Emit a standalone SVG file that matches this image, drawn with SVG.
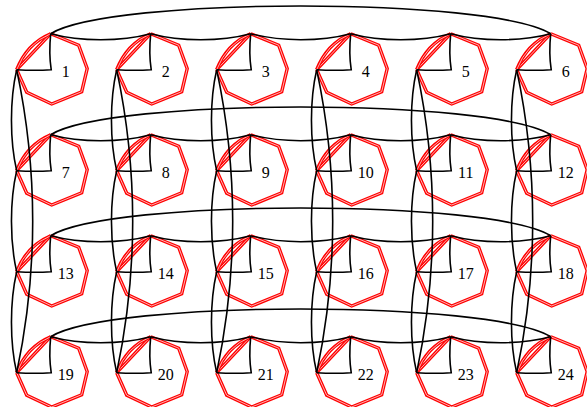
<svg xmlns="http://www.w3.org/2000/svg" xmlns:xlink="http://www.w3.org/1999/xlink" width="587" height="407" viewBox="0 0 587 407">
<style>
.r{fill:none;stroke:#ff0000;stroke-width:3.4;stroke-linejoin:miter}
.w{fill:none;stroke:#ffffff;stroke-width:0.7;stroke-linejoin:miter}
.k{fill:none;stroke:#000000;stroke-width:1.6}
.lbl{font-family:"Liberation Serif","Times New Roman",serif;font-size:16px;fill:#000000;text-anchor:middle}
</style>
<defs>
<path id="poly" d="M0,0 L28,11.5 L36.5,35 L31,58 L1,70.3 L-24,58.5 L-34,36"/>
<path id="ch1" d="M-34,36 L0,0"/>
<path id="ch2" d="M-34,36 Q-24,10 0,0"/>
<g id="shape">
<use xlink:href="#poly" href="#poly" class="r"/>
<use xlink:href="#poly" href="#poly" class="w"/>
<use xlink:href="#ch1" href="#ch1" class="r"/>
<use xlink:href="#ch1" href="#ch1" class="w"/>
<use xlink:href="#ch2" href="#ch2" class="r"/>
<use xlink:href="#ch2" href="#ch2" class="w"/>
<path class="k" d="M0,0 Q-2,20 0.5,36 Q-16,37 -34,36"/>
</g>
</defs>
<rect width="587" height="407" fill="#ffffff"/>
<g id="nodes">
<g id="n1" transform="translate(50.7,33.7)"><use xlink:href="#shape" href="#shape"/><text class="lbl" x="15" y="43">1</text></g>
<g id="n2" transform="translate(150.7,33.7)"><use xlink:href="#shape" href="#shape"/><text class="lbl" x="15" y="43">2</text></g>
<g id="n3" transform="translate(250.7,33.7)"><use xlink:href="#shape" href="#shape"/><text class="lbl" x="15" y="43">3</text></g>
<g id="n4" transform="translate(350.7,33.7)"><use xlink:href="#shape" href="#shape"/><text class="lbl" x="15" y="43">4</text></g>
<g id="n5" transform="translate(450.7,33.7)"><use xlink:href="#shape" href="#shape"/><text class="lbl" x="15" y="43">5</text></g>
<g id="n6" transform="translate(550.7,33.7)"><use xlink:href="#shape" href="#shape"/><text class="lbl" x="15" y="43">6</text></g>
<g id="n7" transform="translate(50.7,134.7)"><use xlink:href="#shape" href="#shape"/><text class="lbl" x="15" y="43">7</text></g>
<g id="n8" transform="translate(150.7,134.7)"><use xlink:href="#shape" href="#shape"/><text class="lbl" x="15" y="43">8</text></g>
<g id="n9" transform="translate(250.7,134.7)"><use xlink:href="#shape" href="#shape"/><text class="lbl" x="15" y="43">9</text></g>
<g id="n10" transform="translate(350.7,134.7)"><use xlink:href="#shape" href="#shape"/><text class="lbl" x="15" y="43">10</text></g>
<g id="n11" transform="translate(450.7,134.7)"><use xlink:href="#shape" href="#shape"/><text class="lbl" x="15" y="43">11</text></g>
<g id="n12" transform="translate(550.7,134.7)"><use xlink:href="#shape" href="#shape"/><text class="lbl" x="15" y="43">12</text></g>
<g id="n13" transform="translate(50.7,235.7)"><use xlink:href="#shape" href="#shape"/><text class="lbl" x="15" y="43">13</text></g>
<g id="n14" transform="translate(150.7,235.7)"><use xlink:href="#shape" href="#shape"/><text class="lbl" x="15" y="43">14</text></g>
<g id="n15" transform="translate(250.7,235.7)"><use xlink:href="#shape" href="#shape"/><text class="lbl" x="15" y="43">15</text></g>
<g id="n16" transform="translate(350.7,235.7)"><use xlink:href="#shape" href="#shape"/><text class="lbl" x="15" y="43">16</text></g>
<g id="n17" transform="translate(450.7,235.7)"><use xlink:href="#shape" href="#shape"/><text class="lbl" x="15" y="43">17</text></g>
<g id="n18" transform="translate(550.7,235.7)"><use xlink:href="#shape" href="#shape"/><text class="lbl" x="15" y="43">18</text></g>
<g id="n19" transform="translate(50.7,336.7)"><use xlink:href="#shape" href="#shape"/><text class="lbl" x="15" y="43">19</text></g>
<g id="n20" transform="translate(150.7,336.7)"><use xlink:href="#shape" href="#shape"/><text class="lbl" x="15" y="43">20</text></g>
<g id="n21" transform="translate(250.7,336.7)"><use xlink:href="#shape" href="#shape"/><text class="lbl" x="15" y="43">21</text></g>
<g id="n22" transform="translate(350.7,336.7)"><use xlink:href="#shape" href="#shape"/><text class="lbl" x="15" y="43">22</text></g>
<g id="n23" transform="translate(450.7,336.7)"><use xlink:href="#shape" href="#shape"/><text class="lbl" x="15" y="43">23</text></g>
<g id="n24" transform="translate(550.7,336.7)"><use xlink:href="#shape" href="#shape"/><text class="lbl" x="15" y="43">24</text></g>
</g>
<g id="connectors" class="k">
<path d="M50.7,33.7 c30,8 70,8 100,0"/>
<path d="M150.7,33.7 c30,8 70,8 100,0"/>
<path d="M250.7,33.7 c30,8 70,8 100,0"/>
<path d="M350.7,33.7 c30,8 70,8 100,0"/>
<path d="M450.7,33.7 c30,8 70,8 100,0"/>
<path d="M50.7,33.7 c60,-37 440,-37 500,0"/>
<path d="M50.7,134.7 c30,8 70,8 100,0"/>
<path d="M150.7,134.7 c30,8 70,8 100,0"/>
<path d="M250.7,134.7 c30,8 70,8 100,0"/>
<path d="M350.7,134.7 c30,8 70,8 100,0"/>
<path d="M450.7,134.7 c30,8 70,8 100,0"/>
<path d="M50.7,134.7 c60,-37 440,-37 500,0"/>
<path d="M50.7,235.7 c30,8 70,8 100,0"/>
<path d="M150.7,235.7 c30,8 70,8 100,0"/>
<path d="M250.7,235.7 c30,8 70,8 100,0"/>
<path d="M350.7,235.7 c30,8 70,8 100,0"/>
<path d="M450.7,235.7 c30,8 70,8 100,0"/>
<path d="M50.7,235.7 c60,-37 440,-37 500,0"/>
<path d="M50.7,336.7 c30,8 70,8 100,0"/>
<path d="M150.7,336.7 c30,8 70,8 100,0"/>
<path d="M250.7,336.7 c30,8 70,8 100,0"/>
<path d="M350.7,336.7 c30,8 70,8 100,0"/>
<path d="M450.7,336.7 c30,8 70,8 100,0"/>
<path d="M50.7,336.7 c60,-37 440,-37 500,0"/>
<path d="M16.7,69.7 c-7,30 -7,71 0,101"/>
<path d="M16.7,170.7 c-7,30 -7,71 0,101"/>
<path d="M16.7,271.7 c-7,30 -7,71 0,101"/>
<path d="M16.7,69.7 q32,151.5 0,303"/>
<path d="M116.7,69.7 c-7,30 -7,71 0,101"/>
<path d="M116.7,170.7 c-7,30 -7,71 0,101"/>
<path d="M116.7,271.7 c-7,30 -7,71 0,101"/>
<path d="M116.7,69.7 q32,151.5 0,303"/>
<path d="M216.7,69.7 c-7,30 -7,71 0,101"/>
<path d="M216.7,170.7 c-7,30 -7,71 0,101"/>
<path d="M216.7,271.7 c-7,30 -7,71 0,101"/>
<path d="M216.7,69.7 q32,151.5 0,303"/>
<path d="M316.7,69.7 c-7,30 -7,71 0,101"/>
<path d="M316.7,170.7 c-7,30 -7,71 0,101"/>
<path d="M316.7,271.7 c-7,30 -7,71 0,101"/>
<path d="M316.7,69.7 q32,151.5 0,303"/>
<path d="M416.7,69.7 c-7,30 -7,71 0,101"/>
<path d="M416.7,170.7 c-7,30 -7,71 0,101"/>
<path d="M416.7,271.7 c-7,30 -7,71 0,101"/>
<path d="M416.7,69.7 q32,151.5 0,303"/>
<path d="M516.7,69.7 c-7,30 -7,71 0,101"/>
<path d="M516.7,170.7 c-7,30 -7,71 0,101"/>
<path d="M516.7,271.7 c-7,30 -7,71 0,101"/>
<path d="M516.7,69.7 q32,151.5 0,303"/>
</g>
</svg>
